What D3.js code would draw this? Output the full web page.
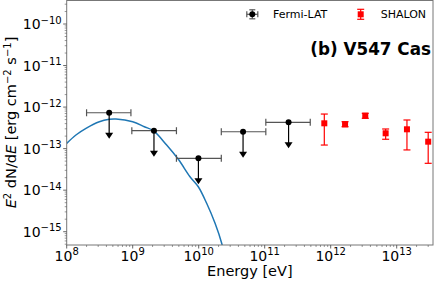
<!DOCTYPE html>
<html><head><meta charset="utf-8">
<script src="https://cdn.jsdelivr.net/npm/d3@7"></script>
<style>body{margin:0;background:#fff}svg{display:block}text{font-family:"DejaVu Sans",sans-serif}</style>
</head><body><svg id="c" width="436" height="282"></svg>
<script>
// Fermi-LAT upper limits: energy, bin lo, bin hi, flux
const fermiE  = [4.4e8, 2.1e9, 9.9e9, 4.7e10, 2.3e11];
const fermiLo = [2.0e8, 9.7e8, 4.6e9, 2.2e10, 1.04e11];
const fermiHi = [9.4e8, 4.6e9, 2.2e10, 1.04e11, 4.9e11];
const fermiF  = [7.3e-13, 2.7e-13, 5.85e-14, 2.55e-13, 4.3e-13];
// SHALON points
const shalonE  = [8.0e11, 1.65e12, 3.34e12, 6.8e12, 1.43e13, 3.0e13];
const shalonF  = [4.07e-13, 3.85e-13, 6.2e-13, 2.34e-13, 2.92e-13, 1.47e-13];
const shalonHi = [6.8e-13, 4.45e-13, 7.08e-13, 2.97e-13, 4.89e-13, 2.47e-13];
const shalonLo = [1.22e-13, 3.37e-13, 5.37e-13, 1.68e-13, 9.3e-14, 4.43e-14];
// model curve
const curveE = [1e8, 1.38e8, 1.96e8, 3.12e8, 4.41e8, 5.58e8, 1e9, 1.5e9, 2.05e9, 3.27e9, 4.91e9, 7.38e9, 9.86e9, 1.32e10, 1.77e10, 2.23e10, 2.6e10];
const curveF = [1.34e-13, 2.13e-13, 3.08e-13, 4.45e-13, 5.08e-13, 5.16e-13, 4.45e-13, 3.37e-13, 2.7e-13, 1.22e-13, 5.53e-14, 2.11e-14, 1.21e-14, 4.83e-15, 1.59e-15, 5.26e-16, 1.8e-16];
const xTicks = [1e8, 1e9, 1e10, 1e11, 1e12, 1e13];
const xTickExp = ["8", "9", "10", "11", "12", "13"];
const yTicks = [1e-15, 1e-14, 1e-13, 1e-12, 1e-11, 1e-10];
const yTickExp = ["\u221215", "\u221214", "\u221213", "\u221212", "\u221211", "\u221210"];
const legendLabels = ["Fermi-LAT", "SHALON"];

const L = 66.7, R = 433, T = 0, B = 245;
const svg = d3.select("#c");
const x = d3.scaleLog().domain([1e8, Math.pow(10, 13.55)]).range([L, R]);
const y = d3.scaleLog().domain([Math.pow(10, -15.32), Math.pow(10, -9.422)]).range([B, T]);

svg.append("defs").append("clipPath").attr("id", "clip")
  .append("rect").attr("x", L).attr("y", T).attr("width", R - L).attr("height", B - T);

// model curve
const line = d3.line().x(d => x(d[0])).y(d => y(d[1])).curve(d3.curveCatmullRom);
svg.append("path").attr("clip-path", "url(#clip)")
  .attr("d", line(curveE.map((e, i) => [e, curveF[i]])))
  .attr("fill", "none").attr("stroke", "#1f77b4").attr("stroke-width", 1.5);

// Fermi points
const fg = svg.append("g");
fermiE.forEach((e, i) => {
  const cx = x(e), cy = y(fermiF[i]);
  const x0 = x(fermiLo[i]), x1 = x(fermiHi[i]);
  fg.append("line").attr("x1", x0).attr("x2", x1).attr("y1", cy).attr("y2", cy).attr("stroke", "#555").attr("stroke-width", 1.2);
  [x0, x1].forEach(xx => fg.append("line").attr("x1", xx).attr("x2", xx).attr("y1", cy - 3.5).attr("y2", cy + 3.5).attr("stroke", "#555").attr("stroke-width", 1.2));
  const tip = cy + 26;
  fg.append("line").attr("x1", cx).attr("x2", cx).attr("y1", cy).attr("y2", tip - 5).attr("stroke", "#000").attr("stroke-width", 1.2);
  fg.append("path").attr("d", `M${cx - 4},${tip - 6}L${cx + 4},${tip - 6}L${cx},${tip}Z`).attr("fill", "#000");
  fg.append("circle").attr("cx", cx).attr("cy", cy).attr("r", 3).attr("fill", "#000");
});

// SHALON points
const sg = svg.append("g");
shalonE.forEach((e, i) => {
  const cx = x(e), cy = y(shalonF[i]);
  const y0 = y(shalonLo[i]), y1 = y(shalonHi[i]);
  sg.append("line").attr("x1", cx).attr("x2", cx).attr("y1", y0).attr("y2", y1).attr("stroke", "#f00").attr("stroke-width", 1.2);
  [y0, y1].forEach(yy => sg.append("line").attr("x1", cx - 3.5).attr("x2", cx + 3.5).attr("y1", yy).attr("y2", yy).attr("stroke", "#f00").attr("stroke-width", 1.2));
  sg.append("rect").attr("x", cx - 3).attr("y", cy - 3).attr("width", 6).attr("height", 6).attr("fill", "#f00");
});

// axes frame
svg.append("rect").attr("x", L).attr("y", T + 0.5).attr("width", R - L).attr("height", B - T - 0.5)
  .attr("fill", "none").attr("stroke", "#777").attr("stroke-width", 1);

// x ticks
const ax = svg.append("g");
for (let d = 8; d <= 13; d++) {
  for (let m = 1; m <= 9; m++) {
    const v = m * Math.pow(10, d);
    if (v > x.domain()[1]) continue;
    const px = x(v), len = m === 1 ? 3.5 : 2;
    ax.append("line").attr("x1", px).attr("x2", px).attr("y1", B).attr("y2", B + len).attr("stroke", "#555").attr("stroke-width", m === 1 ? 0.9 : 0.6);
  }
}
xTicks.forEach((v, i) => {
  const t = ax.append("text").attr("x", x(v)).attr("y", B + 15.5).attr("text-anchor", "middle").attr("font-size", 14).attr("fill", "#000");
  t.append("tspan").text("10");
  t.append("tspan").attr("dy", -5.5).attr("font-size", 10).text(xTickExp[i]);
});
// y ticks
for (let d = -16; d <= -10; d++) {
  for (let m = 1; m <= 9; m++) {
    const v = m * Math.pow(10, d);
    if (v < y.domain()[0] || v > y.domain()[1]) continue;
    const py = y(v), len = m === 1 ? 3.5 : 2;
    ax.append("line").attr("x1", L - len).attr("x2", L).attr("y1", py).attr("y2", py).attr("stroke", "#555").attr("stroke-width", m === 1 ? 0.9 : 0.6);
  }
}
yTicks.forEach((v, i) => {
  const t = ax.append("text").attr("x", L - 5).attr("y", y(v) + 5).attr("text-anchor", "end").attr("font-size", 14).attr("fill", "#000");
  t.append("tspan").text("10");
  t.append("tspan").attr("dy", -5.5).attr("font-size", 10).text(yTickExp[i]);
});

// axis labels
svg.append("text").attr("x", (L + R) / 2).attr("y", 276).attr("text-anchor", "middle").attr("font-size", 14.5).text("Energy [eV]");
const yl = svg.append("text").attr("transform", `translate(15.5,${(T + B) / 2}) rotate(-90)`).attr("text-anchor", "middle").attr("font-size", 14.5);
yl.append("tspan").attr("font-style", "italic").text("E");
yl.append("tspan").attr("dy", -4.5).attr("font-size", 10).text("2");
yl.append("tspan").attr("dy", 4.5).text(" dN/d");
yl.append("tspan").attr("font-style", "italic").text("E");
yl.append("tspan").text(" [erg cm");
yl.append("tspan").attr("dy", -4.5).attr("font-size", 10).text("\u22122");
yl.append("tspan").attr("dy", 4.5).text(" s");
yl.append("tspan").attr("dy", -4.5).attr("font-size", 10).text("\u22121");
yl.append("tspan").attr("dy", 4.5).text("]");

// title
svg.append("text").attr("x", 431).attr("y", 55).attr("text-anchor", "end").attr("font-size", 16.8).attr("font-weight", "bold").text("(b) V547 Cas");

// legend
const lg = svg.append("g");
const fx = 252.3, fy = 14.3;
lg.append("line").attr("x1", fx - 5.5).attr("x2", fx + 5.5).attr("y1", fy).attr("y2", fy).attr("stroke", "#555").attr("stroke-width", 1.2);
lg.append("line").attr("x1", fx).attr("x2", fx).attr("y1", fy - 4.5).attr("y2", fy + 4.5).attr("stroke", "#555").attr("stroke-width", 1.2);
[[fx - 5.5, fx - 5.5, fy - 3, fy + 3], [fx + 5.5, fx + 5.5, fy - 3, fy + 3], [fx - 3, fx + 3, fy - 4.5, fy - 4.5], [fx - 3, fx + 3, fy + 4.5, fy + 4.5]]
  .forEach(c => lg.append("line").attr("x1", c[0]).attr("x2", c[1]).attr("y1", c[2]).attr("y2", c[3]).attr("stroke", "#555").attr("stroke-width", 1.2));
lg.append("circle").attr("cx", fx).attr("cy", fy).attr("r", 3).attr("fill", "#000");
lg.append("text").attr("x", 273).attr("y", fy + 4).attr("font-size", 11).text(legendLabels[0]);
const sx = 360.7;
lg.append("line").attr("x1", sx).attr("x2", sx).attr("y1", fy - 5).attr("y2", fy + 5).attr("stroke", "#f00").attr("stroke-width", 1.2);
[fy - 5, fy + 5].forEach(yy => lg.append("line").attr("x1", sx - 3.5).attr("x2", sx + 3.5).attr("y1", yy).attr("y2", yy).attr("stroke", "#f00").attr("stroke-width", 1.2));
lg.append("rect").attr("x", sx - 3).attr("y", fy - 3).attr("width", 6).attr("height", 6).attr("fill", "#f00");
lg.append("text").attr("x", 380.7).attr("y", fy + 4).attr("font-size", 11).text(legendLabels[1]);
</script></body></html>
